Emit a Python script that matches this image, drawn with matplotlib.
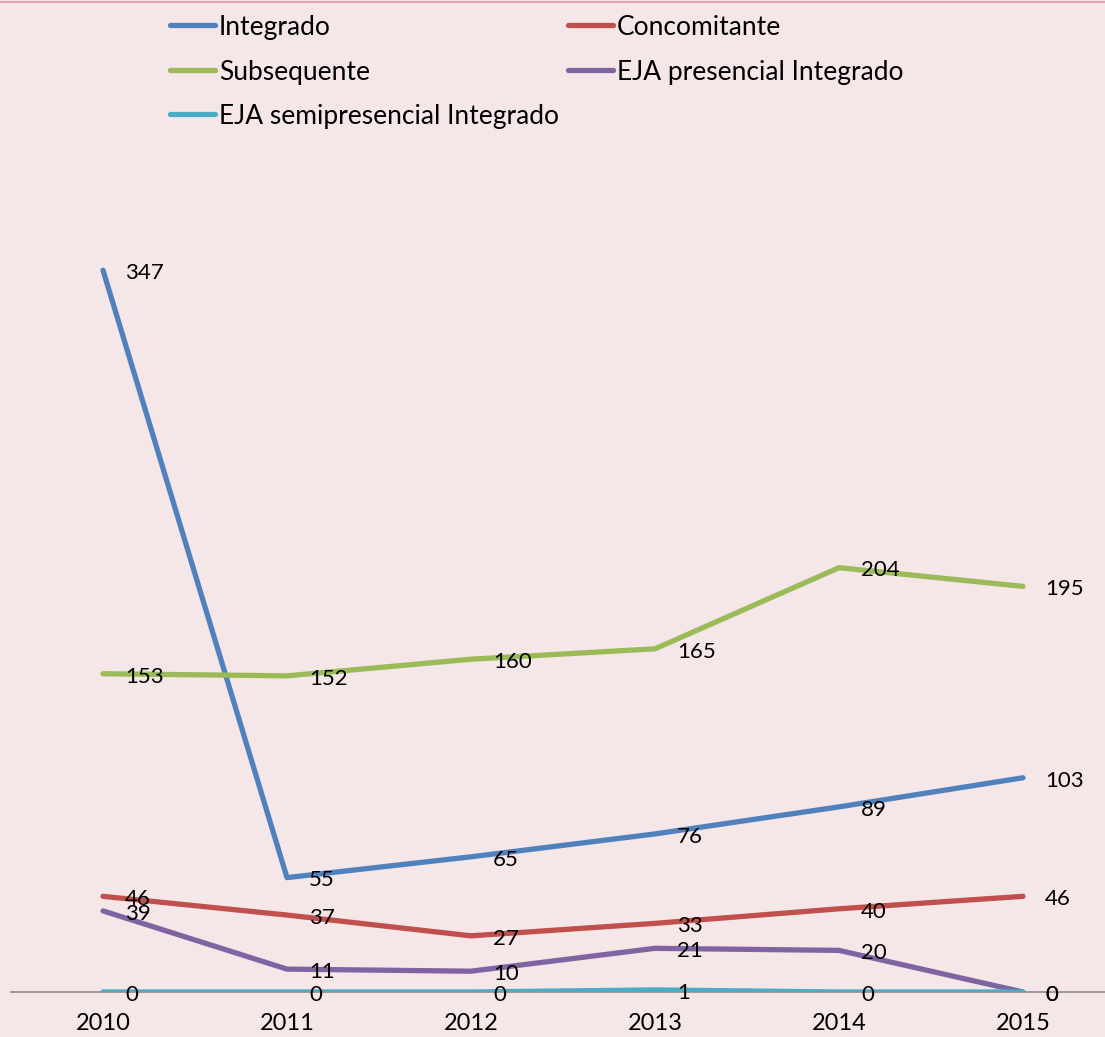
#Line chart of enrolments by modality, 2010-2015
import numpy as np	#arrays
import matplotlib
matplotlib.use('Agg')
import matplotlib.pyplot as plt	#to plot

###################################################################
#data
anos = ['2010', '2011', '2012', '2013', '2014', '2015']
integrado = [347, 55, 65, 76, 89, 103]
concomitante = [46, 37, 27, 33, 40, 46]
subsequente = [153, 152, 160, 165, 204, 195]
eja_presencial = [39, 11, 10, 21, 20, 0]
eja_semipresencial = [0, 0, 0, 1, 0, 0]

series = [('Integrado', integrado, '#4F81BD'),
          ('Concomitante', concomitante, '#C0504D'),
          ('Subsequente', subsequente, '#9BBB59'),
          ('EJA presencial Integrado', eja_presencial, '#8064A2'),
          ('EJA semipresencial Integrado', eja_semipresencial, '#4BACC6')]

bg = '#F5E6E8'
plt.rcParams['font.family'] = ['Lato', 'DejaVu Sans']

####################################################
#plot
W, H = 1105, 1037
fig = plt.figure(figsize=(W/100, H/100), dpi=100, facecolor=bg)
ax = fig.add_axes([11/W, 1 - 992/H, 1 - 11/W, (992-160)/H])
ax.set_facecolor(bg)

x = np.arange(len(anos))
for nome, vals, cor in series:
    ax.plot(x, vals, color=cor, lw=3.8, label=nome, solid_capstyle='round', zorder=3)
    for xi, v in zip(x, vals):
        ax.annotate(str(v), (xi, v), xytext=(16, -2), textcoords='offset points',
                    ha='left', va='center', fontsize=16, color='black', zorder=5)

ax.set_xlim(-0.5, -0.5 + (W-11)/184)
ax.set_ylim(0, 400)
ax.set_xticks(x)
ax.set_xticklabels(anos, fontsize=17)
ax.tick_params(axis='x', length=0, pad=15)
ax.set_yticks([])
for s in ['top', 'right', 'left']:
    ax.spines[s].set_visible(False)
ax.spines['bottom'].set_color('#8C8C8C')
ax.spines['bottom'].set_linewidth(1.2)
ax.spines['bottom'].set_zorder(2)

#top border line
fig.add_artist(plt.Line2D([0, 1], [1 - 2/H, 1 - 2/H], color='#E3A3AC', lw=1.5))

#legend, two columns filled row by row
col_x = [170, 568]
row_y = [25, 70, 114]
for i, (nome, _, cor) in enumerate(series):
    cx = col_x[i % 2]
    cy = 1 - row_y[i // 2]/H
    fig.add_artist(plt.Line2D([cx/W, (cx + 45)/W], [cy, cy], color=cor, lw=3.8,
                              solid_capstyle='round'))
    fig.text((cx + 49)/W, cy, nome, fontsize=19, ha='left', va='center_baseline')

fig.savefig('out.png', dpi=100, facecolor=bg)
